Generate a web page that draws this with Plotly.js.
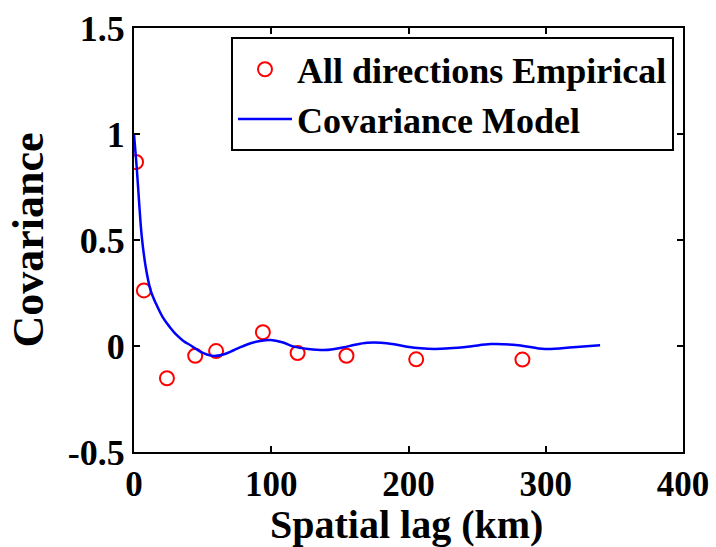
<!DOCTYPE html>
<html>
<head>
<meta charset="utf-8">
<script src="https://cdn.plot.ly/plotly-3.0.1.min.js"></script>
<style>html,body{margin:0;padding:0;background:#fff;}#chart{width:716px;height:547px;}</style>
</head>
<body>
<div id="chart"></div>
<script>
// Empirical covariance points
var empLag = [1.5, 7.2, 24, 44.6, 59.8, 93.9, 119.2, 154.8, 205.6, 283];
var empCov = [0.868, 0.262, -0.152, -0.046, -0.024, 0.065, -0.033, -0.046, -0.063, -0.064];

// Covariance model curve
var modLag = [0, 2, 3.7, 5.6, 8.6, 12, 16, 21, 26, 31, 36, 42, 48.3, 53, 58, 65, 72.6, 79, 85, 92, 99.5, 108, 116.5, 127, 138.5, 146, 153, 161, 170, 180, 189.5, 199, 209, 219, 230, 245, 260, 280, 299.4, 320, 339.6];
var modCov = [1.0, 0.84, 0.68, 0.52, 0.37, 0.265, 0.2, 0.135, 0.09, 0.052, 0.024, 0.0, -0.027, -0.04, -0.047, -0.04, -0.02, -0.002, 0.013, 0.024, 0.028, 0.018, -0.003, -0.014, -0.019, -0.014, -0.006, 0.006, 0.015, 0.015, 0.008, -0.003, -0.011, -0.014, -0.011, -0.002, 0.009, 0.004, -0.014, -0.006, 0.003];

var xTicks = [0, 100, 200, 300, 400];
var yTicks = [-0.5, 0, 0.5, 1, 1.5];
var yTickText = ['-0.5', '0', '0.5', '1', '1.5'];
var xTitle = 'Spatial lag (km)';
var yTitle = 'Covariance';

var font = 'Liberation Serif, Times New Roman, serif';

var traces = [
  {
    x: empLag, y: empCov, type: 'scatter', mode: 'markers',
    name: '<b>All directions Empirical</b>',
    marker: {symbol: 'circle-open', size: 14, color: '#ff0000', line: {width: 2, color: '#ff0000'}}
  },
  {
    x: modLag, y: modCov, type: 'scatter', mode: 'lines',
    name: '<b>Covariance Model</b>',
    line: {color: '#0000ff', width: 2.5, shape: 'spline', smoothing: 1}
  }
];

var layout = {
  width: 716, height: 547,
  margin: {l: 134, r: 33, t: 28, b: 95},
  paper_bgcolor: '#ffffff', plot_bgcolor: '#ffffff',
  font: {family: font, color: '#000000'},
  showlegend: true,
  legend: {
    x: 0.9836, xanchor: 'right', y: 0.978, yanchor: 'top',
    bgcolor: '#ffffff', bordercolor: '#000000', borderwidth: 2,
    font: {family: font, size: 36, color: '#000000'},
    itemwidth: 54, tracegroupgap: 0
  },
  xaxis: {
    range: [0, 400], tickvals: xTicks, ticktext: xTicks.map(String),
    showgrid: false, zeroline: false,
    showline: true, linecolor: '#000000', linewidth: 2, mirror: 'ticks',
    ticks: 'inside', ticklen: 6, tickwidth: 2, tickcolor: '#000000',
    tickfont: {family: font, size: 35, color: '#000000', weight: 'bold'}
  },
  yaxis: {
    range: [-0.5, 1.5], tickvals: yTicks, ticktext: yTickText,
    showgrid: false, zeroline: false,
    showline: true, linecolor: '#000000', linewidth: 2, mirror: 'ticks',
    ticks: 'inside', ticklen: 6, tickwidth: 2, tickcolor: '#000000',
    tickfont: {family: font, size: 36, color: '#000000', weight: 'bold'},
    title: {text: '<b>' + yTitle + '</b>', font: {family: font, size: 44, color: '#000000'}, standoff: 10}
  },
  annotations: [
    {
      text: '<b>' + xTitle + '</b>', xref: 'paper', yref: 'paper',
      x: 0.496, y: -0.172, xanchor: 'center', yanchor: 'middle',
      showarrow: false, font: {family: font, size: 40, color: '#000000'}
    }
  ]
};

Plotly.newPlot('chart', traces, layout, {displayModeBar: false, staticPlot: true});
</script>
</body>
</html>
